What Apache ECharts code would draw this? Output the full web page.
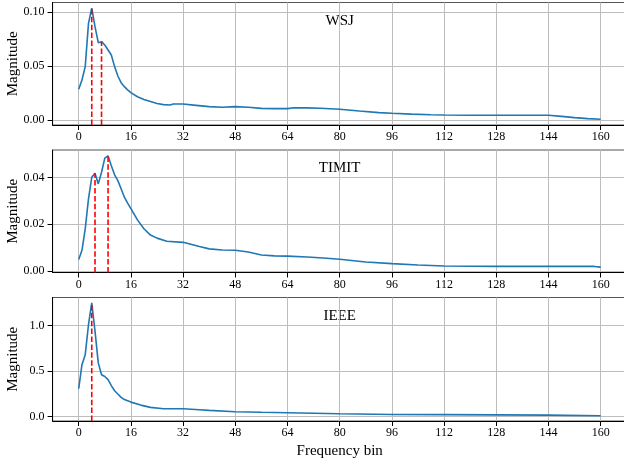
<!DOCTYPE html>
<html>
<head>
<meta charset="utf-8">
<script src="https://cdn.jsdelivr.net/npm/echarts@6/dist/echarts.min.js"></script>
<style>
html,body{margin:0;padding:0;background:#fff;}
#chart{width:624px;height:462px;}
</style>
</head>
<body>
<div id="chart"></div>
<script>
// ---- data ----
const xTicks = [0, 16, 32, 48, 64, 80, 96, 112, 128, 144, 160];

const wsjBins = [0,1,2,3,4,5,6,7,8,9,10,11,12,13,14,15,16,18,20,22,24,26,28,29,32,36,40,44,48,52,56,60,64,66,70,74,80,86,92,96,102,108,112,120,128,136,144,148,152,156,160];
const wsjVals = [0.0284,0.037,0.0494,0.0895,0.1036,0.0864,0.0716,0.0725,0.0694,0.0648,0.0602,0.0494,0.0407,0.0345,0.0308,0.0278,0.0253,0.0215,0.019,0.017,0.0152,0.0142,0.0138,0.0148,0.0147,0.0135,0.0123,0.0118,0.0123,0.0117,0.0107,0.0105,0.0105,0.0113,0.0112,0.0108,0.0099,0.0082,0.0068,0.0062,0.0054,0.0048,0.0046,0.0044,0.0043,0.0043,0.0043,0.0033,0.0021,0.0012,0.0006];
const wsjPeaks = [4, 7];
const wsjYTicks = [0, 0.05, 0.10];

const timitBins = [0,1,2,3,4,5,6,7,8,9,10,11,12,13,14,15,16,18,20,22,24,27,32,37,40,44,48,52,56,60,64,70,75,80,88,96,104,112,128,144,158,160];
const timitVals = [0.0049,0.0088,0.018,0.0308,0.040,0.0418,0.0372,0.0422,0.0482,0.0492,0.045,0.0411,0.0386,0.0351,0.0315,0.029,0.0266,0.0218,0.018,0.0153,0.014,0.0127,0.0122,0.0104,0.0094,0.0089,0.0088,0.0081,0.0068,0.0064,0.0063,0.0059,0.0055,0.005,0.0038,0.0031,0.0025,0.0021,0.0019,0.0019,0.0019,0.0016];
const timitPeaks = [5, 9];
const timitYTicks = [0, 0.02, 0.04];

const ieeeBins = [0,1,2,3,4,5,6,7,8,9,10,11,12,13,14,15,16,19,22,26,32,37,40,48,56,64,80,96,112,128,144,160];
const ieeeVals = [0.305,0.57,0.68,1.01,1.25,0.94,0.59,0.46,0.44,0.405,0.34,0.283,0.247,0.21,0.187,0.173,0.158,0.125,0.1,0.085,0.085,0.074,0.067,0.052,0.046,0.041,0.03,0.022,0.02,0.017,0.015,0.008];
const ieeePeaks = [4];
const ieeeYTicks = [0, 0.5, 1.0];

const panelNames = ['WSJ', 'TIMIT', 'IEEE'];
const yDecimals = [2, 2, 1];
const yMins = [-0.0047, -0.0007, -0.05];
const yMaxs = [0.1088, 0.0517, 1.31];
const xMin = -8, xMax = 168;

// ---- layout ----
const FONT = '"Liberation Serif", "Times New Roman", serif';
const gLeft = 52.6, gWidth = 574.2;
const gTops = [2.5, 150, 297.5];
const gHeights = [122.5, 122.5, 123.5];

const panels = [
  {bins: wsjBins, vals: wsjVals, peaks: wsjPeaks, yTicks: wsjYTicks},
  {bins: timitBins, vals: timitVals, peaks: timitPeaks, yTicks: timitYTicks},
  {bins: ieeeBins, vals: ieeeVals, peaks: ieeePeaks, yTicks: ieeeYTicks}
];

const grids = [], xAxes = [], yAxes = [], series = [], graphics = [];
panels.forEach((p, i) => {
  grids.push({left: gLeft, top: gTops[i], width: gWidth, height: gHeights[i],
    containLabel: false, outerBoundsMode: 'none',
    show: true, borderColor: '#555', borderWidth: 1, backgroundColor: 'transparent'});
  xAxes.push({
    type: 'value', gridIndex: i, min: xMin, max: xMax,
    axisLine: {show: true, onZero: false, lineStyle: {color: '#000', width: 1}},
    axisTick: {show: true, length: 5, customValues: xTicks, lineStyle: {color: '#000'}},
    axisLabel: {customValues: xTicks, margin: 6, color: '#000', fontFamily: FONT, fontSize: 12},
    splitLine: {show: true, lineStyle: {color: '#bdbdbd', width: 1}},
    name: i === 2 ? 'Frequency bin' : '',
    nameLocation: 'middle', nameGap: 23,
    nameTextStyle: {color: '#000', fontFamily: FONT, fontSize: 15}
  });
  yAxes.push({
    type: 'value', gridIndex: i, min: yMins[i], max: yMaxs[i],
    axisLine: {show: true, onZero: false, lineStyle: {color: '#000', width: 1}},
    axisTick: {show: true, length: 5, customValues: p.yTicks, lineStyle: {color: '#000'}},
    axisLabel: {customValues: p.yTicks, margin: 8, color: '#000', fontFamily: FONT, fontSize: 12,
      formatter: v => Number(v).toFixed(yDecimals[i])},
    splitLine: {show: true, lineStyle: {color: '#bdbdbd', width: 1}},
    name: 'Magnitude', nameLocation: 'middle', nameGap: 32, nameMoveOverlap: false,
    nameTextStyle: {color: '#000', fontFamily: FONT, fontSize: 15}
  });
  series.push({
    type: 'line', xAxisIndex: i, yAxisIndex: i, symbol: 'none', z: 3,
    lineStyle: {color: '#1f77b4', width: 1.6},
    data: p.bins.map((b, k) => [b, p.vals[k]])
  });
  p.peaks.forEach(pk => {
    const val = p.vals[p.bins.indexOf(pk)];
    series.push({
      type: 'line', xAxisIndex: i, yAxisIndex: i, symbol: 'none', z: 4,
      lineStyle: {color: '#ff0000', width: 1.6, type: [5.5, 2.4]},
      data: [[pk, yMins[i]], [pk, val]]
    });
  });
  graphics.push({
    type: 'text', x: gLeft + gWidth / 2, y: gTops[i] + gHeights[i] * 0.15,
    style: {text: panelNames[i], textAlign: 'center', textVerticalAlign: 'middle',
      font: '15px ' + FONT, fill: '#000'}
  });
});

const chart = echarts.init(document.getElementById('chart'), null, {renderer: 'canvas'});
chart.setOption({
  animation: false,
  backgroundColor: '#fff',
  grid: grids, xAxis: xAxes, yAxis: yAxes, series: series, graphic: graphics
});
</script>
</body>
</html>
